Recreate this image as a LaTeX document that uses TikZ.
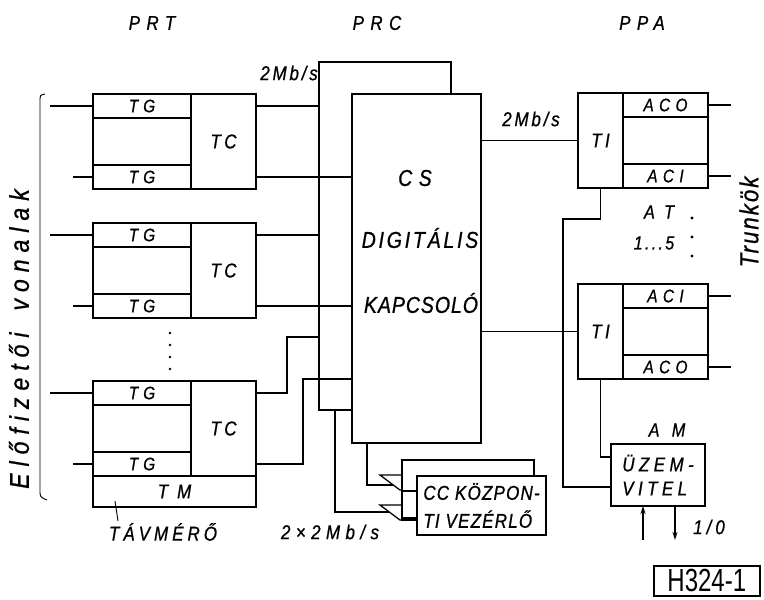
\documentclass[tikz,border=0pt]{standalone}
\usepackage{fontspec}
\setmainfont{Liberation Sans}
\newfontfamily\plate{Liberation Sans}[FakeStretch=0.85,FakeBold=0.8]
\newfontfamily\tagfont{Liberation Sans}[FakeStretch=0.75]
\usetikzlibrary{arrows.meta,positioning}

\tikzset{
  box/.style={draw,line width=2.2pt,fill=white,inner sep=0pt,outer sep=0pt,anchor=north west},
  wire/.style={line width=1.3pt},
  lab/.style 2 args={font=\plate\itshape\fontsize{#1}{#1}\selectfont\addfontfeatures{LetterSpace=#2},inner sep=0pt},
}

% subscriber unit: name, top
\newcommand{\prtblock}[2]{%
  \node[box,minimum width=98pt,minimum height=95pt] (#1l) at (93,#2) {};
  \node[box,minimum width=98pt,minimum height=24pt,lab={18}{28}] (#1a) at (93,#2) {TG};
  \node[box,minimum width=98pt,minimum height=24pt,lab={18}{28}] (#1b) at (93,#2+71) {TG};
  \node[box,minimum width=65pt,minimum height=95pt,lab={20}{17}] (#1c) at (191,#2) {TC};
  \draw[wire] (#1a.west) -- ++(-43,0);
  \draw[wire] (#1b.west) -- ++(-20,0);
}
% trunk unit: name, top, upper strip, lower strip
\newcommand{\ppablock}[4]{%
  \node[box,minimum width=45pt,minimum height=95pt,lab={20}{17}] (#1t) at (578,#2) {TI};
  \node[box,minimum width=85pt,minimum height=95pt] (#1r) at (623,#2) {};
  \node[box,minimum width=85pt,minimum height=24pt,lab={18}{30}] (#1a) at (623,#2) {#3};
  \node[box,minimum width=85pt,minimum height=24pt,lab={18}{30}] (#1b) at (623,#2+71) {#4};
  \draw[wire] (#1a.east) -- ++(23,0);
  \draw[wire] (#1b.east) -- ++(23,0);
}

\begin{document}
\begin{tikzpicture}[x=1pt,y=-1pt]
\useasboundingbox (0,0) rectangle (764,600);

% headings
\node[lab={20}{32}] (prt) at (152,23) {PRT};
\node[lab={20}{32}] (prc) at (377,23) {PRC};
\node[lab={20}{32}] (ppa) at (642,23) {PPA};

% subscriber side
\prtblock{pa}{94}
\prtblock{pb}{223}
\prtblock{pc}{381}
\node[box,minimum width=163pt,minimum height=31pt,lab={20}{45}] (tm) at (93,476) {TM};
\foreach \y in {333,345,357,369} \fill (170,\y) circle (1.4pt);
\draw[line width=0.9pt] (45,94) .. controls (40,95) .. (40,102) -- (40,490) .. controls (40,497) .. (47,500);
\node[lab={27}{26},rotate=90] (subs) at (19,339) {Előfizetői\kern22pt vonalak};
\node[lab={20}{20}] (tav) at (163,532) {TÁVMÉRŐ};
\draw[line width=0.9pt] ([xshift=-45pt,yshift=2pt]tav.north) -- ++(-3,-20);

% switch
\node[box,minimum width=129pt,minimum height=349pt] (cs) at (352,94) {};
\node[lab={23}{28}] (cst) at (415,178) {CS};
\node[lab={23}{12}] (dig) at (420,238) {DIGITÁLIS};
\node[lab={23}{4}] (kap) at (421,303) {KAPCSOLÓ};
\coordinate (busw) at (319,62);
\coordinate (busb) at (319,410);
\coordinate (bust) at (451,94);
\draw[line width=2.2pt] (cs.west |- busb) -- (busb) -- (busw) -| (bust);
\node[lab={20}{14},anchor=east] (rate0) at (318,73) {2Mb/s};

\draw[wire] (pac.east |- paa) -- (busw |- paa);
\draw[wire] (pac.east |- pab) -- (cs.west |- pab);
\draw[wire] (pbc.east |- pba) -- (busw |- pba);
\draw[wire] (pbc.east |- pbb) -- (cs.west |- pbb);
\coordinate (ja) at (287,337);
\coordinate (jb) at (303,379);
\draw[wire] (pcc.east |- pca) -| (ja) -- (busw |- ja);
\draw[wire] (pcc.east |- pcb) -| (jb) -- (cs.west |- jb);

% trunk side
\ppablock{ta}{93}{ACO}{ACI}
\ppablock{tb}{284}{ACI}{ACO}
\draw[wire] (cs.east |- tat) -- (tat.west);
\draw[wire] (cs.east |- tbt) -- (tbt.west);
\node[lab={20}{14}] (rate1) at (531,119) {2Mb/s};
\node[lab={19}{55}] (at) at (659,212) {AT};
\node[lab={19}{12}] (rng) at (654,243) {1...5};
\foreach \y in {218,237,256} \fill (692,\y) circle (1.7pt);
\node[lab={26}{8},rotate=90] (trk) at (749,222) {Trunkök};

% maintenance
\node[lab={19}{65}] (amt) at (667,430) {AM};
\node[box,minimum width=94pt,minimum height=62pt,lab={20}{22},align=left] (am) at (611,444) {ÜZEM-\\[4pt]VITEL};
\draw[wire] (tat.south) -- ++(0,31) -| (563,487) -- ([yshift=-12pt]am.west);
\draw[wire] (tbt.south) |- ([yshift=18pt]am.west);
\coordinate (ioa) at (643,540);
\coordinate (iob) at (675,540);
\draw[wire,-{Stealth[length=8pt,width=5pt]}] (ioa) -- (ioa |- am.south);
\draw[wire,-{Stealth[length=8pt,width=5pt]}] (iob |- am.south) -- (iob);
\node[lab={20}{20}] (io) at (709,527) {1/0};

% central control
\node[box,minimum width=132pt,minimum height=60pt] (ccb) at (402,460) {};
\node[box,minimum width=129pt,minimum height=59pt,lab={20}{6},align=left] (cc) at (417,476) {CC KÖZPON-\\[8pt]TI VEZÉRLŐ};
\coordinate (wa) at (380,475);
\coordinate (wb) at (380,505);
\draw[wire] (ccb.west |- wa) -- (wa) -- ++(20,15) -- ++(2,0);
\draw[wire] (ccb.west |- wb) -- (wb) -- ++(20,15) -- ++(2,0);
\draw[wire] ([xshift=15pt]cs.south west) |- (393,485);
\draw[wire] ([xshift=16pt]busb) |- (389,512);
\draw[wire] (402,491) -- ++(15,0);
\draw[wire] (402,518) -- ++(15,0);
\node[lab={20}{27}] (two) at (330,532) {2×2Mb/s};

% figure tag
\node[draw,line width=1.6pt,minimum width=106pt,minimum height=30pt,inner sep=0pt,anchor=north west,font=\tagfont\fontsize{32}{32}\selectfont] (tag) at (653,565) {H324-1};
\end{tikzpicture}
\end{document}
